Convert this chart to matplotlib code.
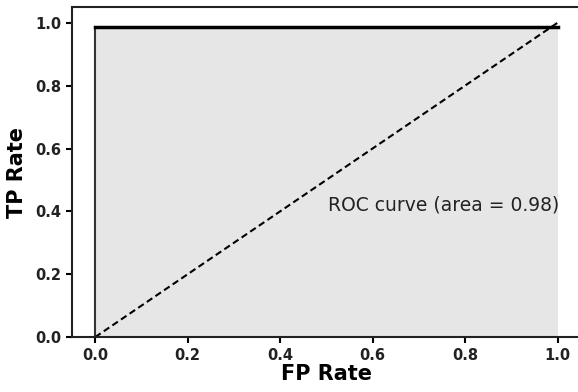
import matplotlib
matplotlib.use("Agg")
import matplotlib.pyplot as plt

fpr = [0.0, 0.0, 1.0]
tpr = [0.0, 0.985, 0.985]
diag_x = [0.0, 1.0]
diag_y = [0.0, 1.0]
ticks = [0.0, 0.2, 0.4, 0.6, 0.8, 1.0]
tick_labels = ["0.0", "0.2", "0.4", "0.6", "0.8", "1.0"]
label_text = "ROC curve (area = 0.98)"

fig = plt.figure(figsize=(5.78, 3.92), dpi=100)
ax = fig.add_axes([0.1246, 0.140, 0.880, 0.842])

ax.fill_between(fpr, tpr, 0, color="#e6e6e6", linewidth=0)
ax.plot(fpr[:2], tpr[:2], color="#333333", lw=1.5)
ax.plot(fpr[1:], tpr[1:], color="black", lw=2.5)
ax.plot(diag_x, diag_y, color="black", lw=1.5, linestyle="--", dashes=(3.2, 1.8))
ax.text(0.503, 0.42, label_text, fontsize=13.5, color="#222222", va="center", ha="left")

ax.set_xlim(-0.05, 1.05)
ax.set_ylim(0.0, 1.05)
ax.set_xticks(ticks)
ax.set_xticklabels(tick_labels, fontweight="bold", fontsize=10.5, color="#222222")
ax.set_yticks(ticks)
ax.set_yticklabels(tick_labels, fontweight="bold", fontsize=10.5, color="#222222")
ax.set_xlabel("FP Rate", fontweight="bold", fontsize=15, labelpad=1)
ax.set_ylabel("TP Rate", fontweight="bold", fontsize=15, labelpad=6)
for s in ax.spines.values():
    s.set_linewidth(1.5)
    s.set_color("#222222")
ax.tick_params(width=1.5, length=4)

fig.savefig("out.png", dpi=100)
